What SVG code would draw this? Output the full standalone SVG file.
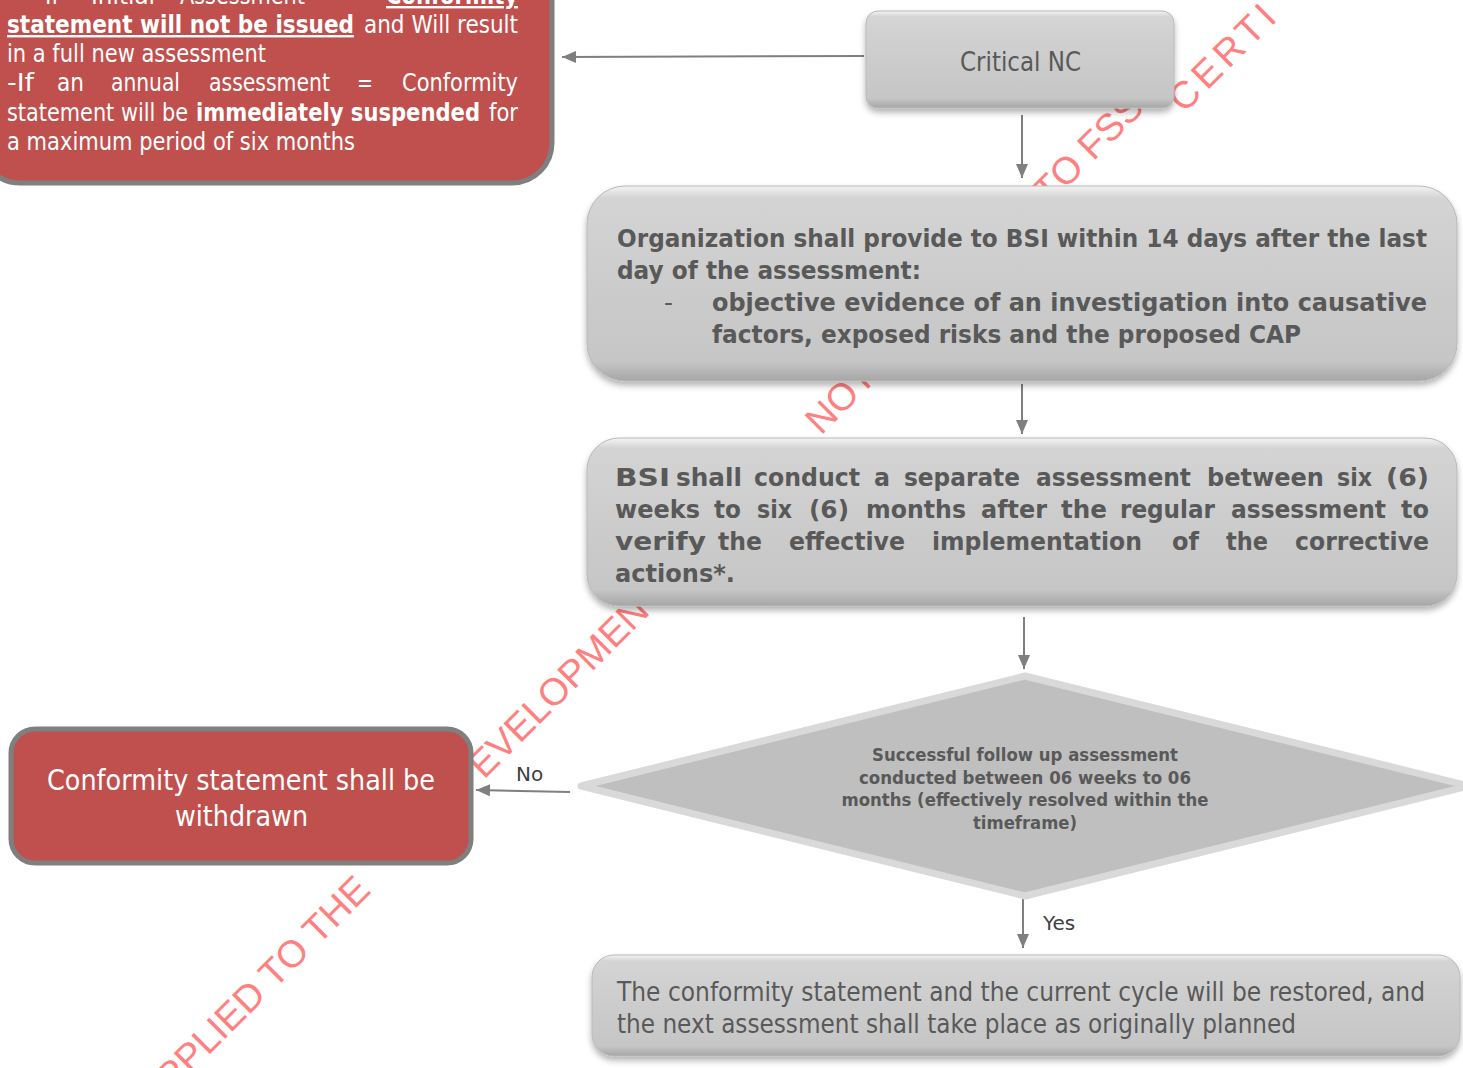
<svg xmlns="http://www.w3.org/2000/svg" width="1463" height="1068" viewBox="0 0 1463 1068">
<defs>
<style>
text{font-family:"DejaVu Sans","Liberation Sans",sans-serif;}
.wm{font-family:"Liberation Sans",Arial,sans-serif;font-size:38px;fill:#ff8080;}
.red{fill:#c0504d;stroke:#7f7f7f;stroke-width:5;}
.gbox{fill:url(#gg);stroke:#b8b8b8;stroke-width:1;filter:url(#sh);}
.wt{fill:#ffffff;font-size:24px;}
.gt{fill:#595959;}
.b{font-weight:bold;}
.u{text-decoration:underline;}
.conn{stroke:#7f7f7f;stroke-width:2;fill:none;marker-end:url(#arr);}
.lbl{fill:#404040;font-size:20px;}
</style>
<linearGradient id="gg" x1="0" y1="0" x2="0" y2="1">
<stop offset="0" stop-color="#f4f4f4"/>
<stop offset="0.06" stop-color="#d4d4d4"/>
<stop offset="0.5" stop-color="#cccccc"/>
<stop offset="0.9" stop-color="#c6c6c6"/>
<stop offset="1" stop-color="#a6a6a6"/>
</linearGradient>
<filter id="sh" x="-5%" y="-10%" width="110%" height="130%">
<feDropShadow dx="0" dy="4" stdDeviation="3" flood-color="#000" flood-opacity="0.3"/>
</filter>
<marker id="arr" markerUnits="userSpaceOnUse" markerWidth="14" markerHeight="12" refX="14" refY="6" orient="auto">
<path d="M0,0 L14,6 L0,12 z" fill="#7f7f7f"/>
</marker>
</defs>
<rect width="1463" height="1068" fill="#ffffff"/>

<g id="watermark">
<text class="wm" x="172" y="1092" transform="rotate(-45 172 1092)">PPLIED TO THE</text>
<text class="wm" x="484" y="780" transform="rotate(-45 484 780)">EVELOPMENT</text>
<text class="wm" x="821" y="436" transform="rotate(-45 821 436)">NOT</text>
<text class="wm" x="1049" y="206" transform="rotate(-45 1049 206)">TO FSSC</text>
<text class="wm" x="1184" y="114" transform="rotate(-45 1184 114)" letter-spacing="5">CERTI</text>
</g>

<g id="connectors">
<path class="conn" d="M864,56 L562,57"/>
<path class="conn" d="M1022,115 L1022,178"/>
<path class="conn" d="M1022,384 L1022,434"/>
<path class="conn" d="M1024,617 L1024,669"/>
<path class="conn" d="M570,792 L476,790"/>
<path class="conn" d="M1023,898 L1023,948"/>
<text class="lbl" x="516" y="781">No</text>
<text class="lbl" x="1043" y="930">Yes</text>
</g>

<g id="node-outcome-nc">
<rect class="red" x="-20" y="-40" width="572" height="223" rx="40"/>
<text class="wt" y="4"><tspan x="45" textLength="14" lengthAdjust="spacingAndGlyphs">If</tspan><tspan x="91" textLength="64" lengthAdjust="spacingAndGlyphs">Initial</tspan><tspan x="180" textLength="125" lengthAdjust="spacingAndGlyphs">Assessment</tspan><tspan class="b u" x="386" textLength="132" lengthAdjust="spacingAndGlyphs">Conformity</tspan></text>
<text class="wt" y="33"><tspan class="b u" x="7" textLength="347" lengthAdjust="spacingAndGlyphs">statement will not be issued</tspan><tspan x="364" textLength="154" lengthAdjust="spacingAndGlyphs">and Will result</tspan></text>
<text class="wt" x="7" y="62" textLength="259" lengthAdjust="spacingAndGlyphs">in a full new assessment</text>
<text class="wt" y="91"><tspan x="7" textLength="27" lengthAdjust="spacingAndGlyphs">-If</tspan><tspan x="57" textLength="27" lengthAdjust="spacingAndGlyphs">an</tspan><tspan x="111" textLength="69" lengthAdjust="spacingAndGlyphs">annual</tspan><tspan x="209" textLength="121" lengthAdjust="spacingAndGlyphs">assessment</tspan><tspan x="357" textLength="16" lengthAdjust="spacingAndGlyphs">=</tspan><tspan x="402" textLength="116" lengthAdjust="spacingAndGlyphs">Conformity</tspan></text>
<text class="wt" y="121"><tspan x="7" textLength="181" lengthAdjust="spacingAndGlyphs">statement will be</tspan><tspan class="b" x="196" textLength="284" lengthAdjust="spacingAndGlyphs">immediately suspended</tspan><tspan x="489" textLength="29" lengthAdjust="spacingAndGlyphs">for</tspan></text>
<text class="wt" x="7" y="150" textLength="348" lengthAdjust="spacingAndGlyphs">a maximum period of six months</text>
</g>

<g id="node-critical-nc">
<rect class="gbox" x="866" y="11" width="308" height="97" rx="12"/>
<text class="gt" x="960" y="71" font-size="26" textLength="121" lengthAdjust="spacingAndGlyphs">Critical NC</text>
</g>

<g id="node-organization">
<rect class="gbox" x="587" y="186" width="870" height="195" rx="38"/>
<g class="gt b" font-size="25">
<text x="617" y="247" textLength="810" lengthAdjust="spacingAndGlyphs">Organization shall provide to BSI within 14 days after the last</text>
<text x="617" y="279" textLength="304" lengthAdjust="spacingAndGlyphs">day of the assessment:</text>
<text x="664" y="311" font-weight="normal">-</text>
<text x="712" y="311" textLength="715" lengthAdjust="spacingAndGlyphs">objective evidence of an investigation into causative</text>
<text x="712" y="343" textLength="589" lengthAdjust="spacingAndGlyphs">factors, exposed risks and the proposed CAP</text>
</g>
</g>

<g id="node-bsi-assessment">
<rect class="gbox" x="587" y="438" width="870" height="168" rx="32"/>
<g class="gt b" font-size="25">
<text y="486"><tspan x="615" textLength="55" lengthAdjust="spacingAndGlyphs">BSI</tspan><tspan x="676" textLength="66" lengthAdjust="spacingAndGlyphs">shall</tspan><tspan x="754" textLength="106" lengthAdjust="spacingAndGlyphs">conduct</tspan><tspan x="874" textLength="16" lengthAdjust="spacingAndGlyphs">a</tspan><tspan x="904" textLength="116" lengthAdjust="spacingAndGlyphs">separate</tspan><tspan x="1036" textLength="155" lengthAdjust="spacingAndGlyphs">assessment</tspan><tspan x="1207" textLength="117" lengthAdjust="spacingAndGlyphs">between</tspan><tspan x="1337" textLength="35" lengthAdjust="spacingAndGlyphs">six</tspan><tspan x="1386" textLength="43" lengthAdjust="spacingAndGlyphs">(6)</tspan></text>
<text y="518"><tspan x="615" textLength="85" lengthAdjust="spacingAndGlyphs">weeks</tspan><tspan x="714" textLength="27" lengthAdjust="spacingAndGlyphs">to</tspan><tspan x="757" textLength="35" lengthAdjust="spacingAndGlyphs">six</tspan><tspan x="809" textLength="40" lengthAdjust="spacingAndGlyphs">(6)</tspan><tspan x="866" textLength="100" lengthAdjust="spacingAndGlyphs">months</tspan><tspan x="981" textLength="66" lengthAdjust="spacingAndGlyphs">after</tspan><tspan x="1061" textLength="46" lengthAdjust="spacingAndGlyphs">the</tspan><tspan x="1120" textLength="95" lengthAdjust="spacingAndGlyphs">regular</tspan><tspan x="1231" textLength="155" lengthAdjust="spacingAndGlyphs">assessment</tspan><tspan x="1401" textLength="28" lengthAdjust="spacingAndGlyphs">to</tspan></text>
<text y="550"><tspan x="615" textLength="91" lengthAdjust="spacingAndGlyphs">verify</tspan><tspan x="718" textLength="44" lengthAdjust="spacingAndGlyphs">the</tspan><tspan x="789" textLength="116" lengthAdjust="spacingAndGlyphs">effective</tspan><tspan x="932" textLength="210" lengthAdjust="spacingAndGlyphs">implementation</tspan><tspan x="1172" textLength="27" lengthAdjust="spacingAndGlyphs">of</tspan><tspan x="1226" textLength="42" lengthAdjust="spacingAndGlyphs">the</tspan><tspan x="1295" textLength="134" lengthAdjust="spacingAndGlyphs">corrective</tspan></text>
<text x="615" y="582" textLength="120" lengthAdjust="spacingAndGlyphs">actions*.</text>
</g>
</g>

<g id="node-decision">
<polygon points="1025,676 1469,786 1025,896 581,786" fill="#bfbfbf" stroke="#d9d9d9" stroke-width="7" stroke-linejoin="round"/>
<g class="gt b" font-size="18" text-anchor="middle">
<text x="1025" y="761" textLength="306" lengthAdjust="spacingAndGlyphs">Successful follow up assessment</text>
<text x="1025" y="784" textLength="332" lengthAdjust="spacingAndGlyphs">conducted between 06 weeks to 06</text>
<text x="1025" y="806" textLength="367" lengthAdjust="spacingAndGlyphs">months (effectively resolved within the</text>
<text x="1025" y="829" textLength="104" lengthAdjust="spacingAndGlyphs">timeframe)</text>
</g>
</g>

<g id="node-withdrawn">
<rect class="red" x="11" y="729" width="460" height="134" rx="24"/>
<text x="47" y="790" fill="#ffffff" font-size="29" textLength="388" lengthAdjust="spacingAndGlyphs">Conformity statement shall be</text>
<text x="175" y="826" fill="#ffffff" font-size="29" textLength="133" lengthAdjust="spacingAndGlyphs">withdrawn</text>
</g>

<g id="node-restored">
<rect class="gbox" x="592" y="955" width="868" height="101" rx="22"/>
<text class="gt" x="617" y="1001" font-size="26" textLength="808" lengthAdjust="spacingAndGlyphs">The conformity statement and the current cycle will be restored, and</text>
<text class="gt" x="617" y="1033" font-size="26" textLength="679" lengthAdjust="spacingAndGlyphs">the next assessment shall take place as originally planned</text>
</g>
</svg>
